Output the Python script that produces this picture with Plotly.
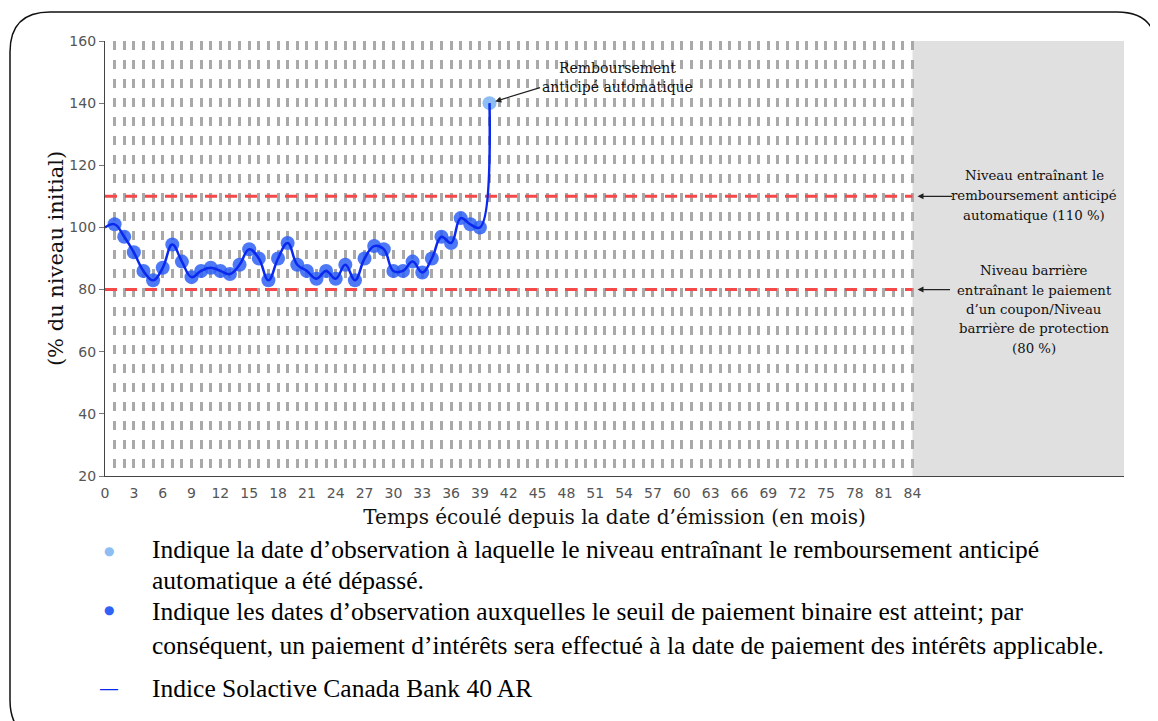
import plotly.graph_objects as go

# ---------------- data ----------------
months = list(range(0, 41))
index_values = [100, 101, 97, 92, 86, 83, 87, 94.5, 89, 84, 86, 87, 86, 85, 88, 93, 90, 83,
                90, 95, 88, 86, 83.5, 86, 83.5, 88, 83, 90, 94, 93, 86, 86, 89, 85.5, 90,
                97, 95, 103, 101, 100, 140]
coupon_months = months[1:40]
coupon_values = index_values[1:40]
autocall_month = [months[40]]
autocall_value = [index_values[40]]

x_tick_vals = list(range(0, 85, 3))
y_tick_vals = list(range(20, 161, 20))
term_months = 84
x_max = 106
autocall_level = 110
barrier_level = 80

series_name = "Indice Solactive Canada Bank 40 AR"
autocall_note = ["Remboursement", "anticipé automatique"]
autocall_level_note = ["Niveau entraînant le", "remboursement anticipé", "automatique (110 %)"]
barrier_level_note = ["Niveau barrière", "entraînant le paiement", "d’un coupon/Niveau",
                      "barrière de protection", "(80 %)"]
legend_texts = [
    "Indique la date d’observation à laquelle le niveau entraînant le remboursement anticipé",
    "automatique a été dépassé.",
    "Indique les dates d’observation auxquelles le seuil de paiement binaire est atteint; par",
    "conséquent, un paiement d’intérêts sera effectué à la date de paiement des intérêts applicable.",
    series_name,
]

# ---------------- layout geometry (page px; page body has an 8px margin) ----------------
OFF = 8
PAGE_W, PAGE_H = 1158, 721
W, H = PAGE_W - OFF, PAGE_H - OFF
PL, PR, PT, PB = 105, 1124, 41, 476   # plot area in page coordinates
L, R, T, B = PL - OFF, PAGE_W - PR, PT - OFF, PAGE_H - PB
PW, PH = PR - PL, PB - PT


def px(x):
    return (x - PL) / PW


def py(y):
    return (PB - y) / PH


SERIF = "DejaVu Serif"
TIMES = "Liberation Serif"
BLUE_LINE = "#0a28ee"
BLUE_MARK = "#2f62f5"
LIGHT_BLUE = "#8dbdf3"
GRID = "#a9a9a9"
RED = "#f54848"

fig = go.Figure()

fig.add_trace(go.Scatter(
    x=coupon_months, y=coupon_values, mode="markers",
    marker=dict(color=BLUE_MARK, size=14, opacity=0.85, line=dict(width=0)),
    showlegend=False, hoverinfo="skip"))
fig.add_trace(go.Scatter(
    x=autocall_month, y=autocall_value, mode="markers",
    marker=dict(color=LIGHT_BLUE, size=14, line=dict(width=0)),
    showlegend=False, hoverinfo="skip"))
fig.add_trace(go.Scatter(
    x=months, y=index_values, mode="lines", name=series_name,
    line=dict(color=BLUE_LINE, width=2.5, shape="spline", smoothing=1.2),
    showlegend=False))

shapes = []
# grey area after maturity
shapes.append(dict(type="rect", xref="x", yref="paper", x0=term_months, x1=x_max, y0=0, y1=1,
                   fillcolor="#e0e0e0", line=dict(width=0), layer="between"))
# level lines
for lvl in (autocall_level, barrier_level):
    shapes.append(dict(type="line", xref="x", yref="y", x0=0, x1=term_months, y0=lvl, y1=lvl,
                       line=dict(color=RED, width=3, dash="12px,8px"), layer="between"))
# outer rounded frame
x0, x1, y0, y1 = 10, 1157, 12, 740
r = 40
path = (f"M {px(x1)},{py(730)} L {px(x1)},{py(y0 + r)} "
        f"Q {px(x1)},{py(y0)} {px(x1 - r)},{py(y0)} "
        f"L {px(x0 + r)},{py(y0)} Q {px(x0)},{py(y0)} {px(x0)},{py(y0 + r)} "
        f"L {px(x0)},{py(y1 - r)} Q {px(x0)},{py(y1)} {px(x0 + r)},{py(y1)}")
shapes.append(dict(type="path", xref="paper", yref="paper", path=path,
                   line=dict(color="#111111", width=1.5)))

annotations = []


def add_lines(lines, cx, ys, size):
    for t, yy in zip(lines, ys):
        annotations.append(dict(xref="paper", yref="paper", x=px(cx), y=py(yy), text=t,
                                showarrow=False, xanchor="center", yanchor="middle",
                                font=dict(family=SERIF, size=size, color="#111")))


# autocall annotation
add_lines(autocall_note, 617, [68, 87], 14)
annotations.append(dict(xref="x", yref="y", x=autocall_month[0], y=autocall_value[0],
                        ax=52, ay=-16, text="", showarrow=True, arrowhead=2, arrowsize=1,
                        arrowwidth=1.2, arrowcolor="#222", standoff=6))
# right annotations
add_lines(autocall_level_note, 1034, [175, 195, 215], 13.3)
annotations.append(dict(xref="x", yref="y", x=term_months, y=autocall_level,
                        ax=41, ay=0, text="", showarrow=True, arrowhead=2, arrowsize=1,
                        arrowwidth=1.2, arrowcolor="#222", standoff=5))
add_lines(barrier_level_note, 1034, [270, 290, 309, 328, 348], 13.3)
annotations.append(dict(xref="x", yref="y", x=term_months, y=barrier_level,
                        ax=39, ay=0, text="", showarrow=True, arrowhead=2, arrowsize=1,
                        arrowwidth=1.2, arrowcolor="#222", standoff=5))

# custom legend below the chart
legend_y = [549, 580, 611, 645, 688]
for t, yy in zip(legend_texts, legend_y):
    annotations.append(dict(xref="paper", yref="paper", x=px(150), y=py(yy), text=t,
                            showarrow=False, xanchor="left", yanchor="middle",
                            font=dict(family=TIMES, size=25.5, color="#000")))
annotations.append(dict(xref="paper", yref="paper", x=px(109), y=py(551), text="●",
                        showarrow=False, xanchor="center", yanchor="middle",
                        font=dict(family="DejaVu Sans", size=12, color=LIGHT_BLUE)))
annotations.append(dict(xref="paper", yref="paper", x=px(109), y=py(610), text="●",
                        showarrow=False, xanchor="center", yanchor="middle",
                        font=dict(family="DejaVu Sans", size=12, color=BLUE_MARK)))
annotations.append(dict(xref="paper", yref="paper", x=px(109), y=py(688), text="—",
                        showarrow=False, xanchor="center", yanchor="middle",
                        font=dict(family="DejaVu Sans", size=20, color=BLUE_LINE)))

fig.update_layout(
    width=W, height=H,
    margin=dict(l=L, r=R, t=T, b=B, autoexpand=False),
    paper_bgcolor="white", plot_bgcolor="white",
    showlegend=False,
    shapes=shapes, annotations=annotations,
    xaxis=dict(range=[0, x_max], tickmode="array", tickvals=x_tick_vals,
               showgrid=True, gridcolor=GRID, gridwidth=2.5, griddash="9px,10px",
               minor=dict(tickmode="array", tickvals=list(range(1, term_months + 1)),
                          showgrid=True, gridcolor=GRID, gridwidth=2.5, griddash="9px,10px"),
               zeroline=False, showline=True, linecolor="#444", linewidth=1.2,
               ticks="", ticklabelstandoff=4,
               tickfont=dict(family="DejaVu Sans", size=14, color="#555"),
               title=dict(text="Temps écoulé depuis la date d’émission (en mois)",
                          font=dict(family=SERIF, size=20, color="#111"), standoff=10)),
    yaxis=dict(range=[20, 160], tickmode="array", tickvals=y_tick_vals,
               showgrid=False, zeroline=False, showline=True, linecolor="#444", linewidth=1.2,
               ticks="outside", ticklen=5, tickcolor="#777",
               tickfont=dict(family="DejaVu Sans", size=14, color="#555"),
               title=dict(text="(% du niveau initial)",
                          font=dict(family=SERIF, size=21, color="#111"), standoff=0)),
)

fig.write_html("out.html")
